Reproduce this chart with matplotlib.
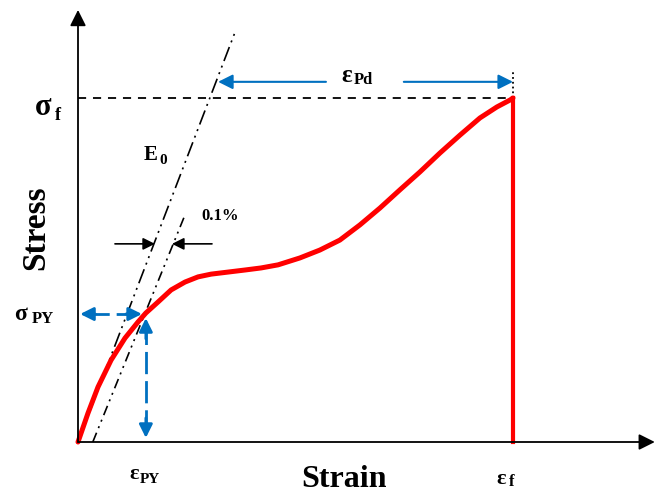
import matplotlib.pyplot as plt

plt.rcParams['font.family'] = ['Liberation Serif', 'DejaVu Serif']
plt.rcParams['font.weight'] = 'bold'

# stress-strain curve, normalised: strain / eps_f, stress / sigma_f
strain = [0.0, 0.023, 0.046, 0.076, 0.108, 0.138, 0.156, 0.184, 0.214, 0.246,
          0.276, 0.306, 0.345, 0.384, 0.421, 0.460, 0.510, 0.556, 0.602, 0.648,
          0.694, 0.740, 0.786, 0.832, 0.878, 0.924, 0.963, 0.993, 1.0]
stress = [0.0, 0.084, 0.160, 0.238, 0.302, 0.349, 0.375, 0.407, 0.442, 0.465,
          0.480, 0.488, 0.494, 0.500, 0.506, 0.515, 0.535, 0.558, 0.587, 0.631,
          0.680, 0.733, 0.785, 0.840, 0.892, 0.942, 0.974, 0.994, 1.0]

# elastic line E0 and the 0.1 % offset line
e0_strain = [0.0, 0.363]
e0_stress = [0.0, 1.198]
off_strain = [0.034, 0.244]
off_stress = [0.0, 0.654]

eps_py, sig_py = 0.156, 0.372
eps_f, sig_f = 1.0, 1.0

blue = '#0070C0'

fig = plt.figure(figsize=(6.56, 4.94), dpi=100)
ax = fig.add_axes([0, 0, 1, 1])
ax.set_xlim(-78 / 435, 578 / 435)
ax.set_ylim(-52 / 344, 442 / 344)
ax.axis('off')

# axes with arrow heads
ax.annotate('', xy=(1.326, 0), xytext=(0, 0),
            arrowprops=dict(arrowstyle='-|>', lw=1.3, color='black', mutation_scale=24,
                            shrinkA=0, shrinkB=0))
ax.annotate('', xy=(0, 1.256), xytext=(0, 0),
            arrowprops=dict(arrowstyle='-|>', lw=1.3, color='black', mutation_scale=24,
                            shrinkA=0, shrinkB=0))

# sigma_f dashed line and dotted marker at eps_f
ax.plot([0, eps_f], [sig_f, sig_f], color='black', lw=1.3, dashes=(4.5, 3.8))
ax.plot([eps_f, eps_f], [sig_f, 1.076], color='black', lw=1.3, ls=':')

# E0 and offset lines
ax.plot(e0_strain, e0_stress, color='black', lw=1.2, dashes=(9, 3, 1.2, 3, 1.2, 3))
ax.plot(off_strain, off_stress, color='black', lw=1.2, dashes=(6, 3, 1.2, 3, 1.2, 3))

# red curve + fracture drop
ax.plot(strain, stress, color='red', lw=3.6, solid_joinstyle='round', solid_capstyle='round')
ax.plot([eps_f, eps_f], [sig_f, 0], color='red', lw=3.0)

# 0.1% arrows
ax.annotate('', xy=(0.177, 0.576), xytext=(0.085, 0.576),
            arrowprops=dict(arrowstyle='-|>', lw=1.2, color='black', mutation_scale=18,
                            shrinkA=0, shrinkB=0))
ax.annotate('', xy=(0.216, 0.576), xytext=(0.308, 0.576),
            arrowprops=dict(arrowstyle='-|>', lw=1.2, color='black', mutation_scale=18,
                            shrinkA=0, shrinkB=0))

# eps_Pd arrows
ax.annotate('', xy=(0.322, 1.047), xytext=(0.570, 1.047),
            arrowprops=dict(arrowstyle='-|>', lw=1.5, color=blue, mutation_scale=22,
                            shrinkA=0, shrinkB=0))
ax.annotate('', xy=(1.0, 1.047), xytext=(0.749, 1.047),
            arrowprops=dict(arrowstyle='-|>', lw=1.5, color=blue, mutation_scale=22,
                            shrinkA=0, shrinkB=0))

# dashed blue double arrows for yield point
ax.plot([0.02, 0.135], [sig_py, sig_py], color=blue, lw=2, dashes=(8, 2.5))
ax.plot([eps_py, eps_py], [0.03, 0.35], color=blue, lw=2, dashes=(8, 2.5))
for tip, tail in [((0.005, sig_py), (0.04, sig_py)),
                  ((0.147, sig_py), (0.11, sig_py)),
                  ((eps_py, 0.36), (eps_py, 0.30)),
                  ((eps_py, 0.012), (eps_py, 0.07))]:
    ax.annotate('', xy=tip, xytext=tail,
                arrowprops=dict(arrowstyle='-|>', lw=2, color=blue, mutation_scale=20,
                                shrinkA=0, shrinkB=0))

# labels
ax.text(-0.080, 0.971, 'σ', fontsize=22, ha='center', va='center')
ax.text(-0.046, 0.950, 'f', fontsize=13, ha='center', va='center')
ax.text(-0.133, 0.370, 'σ', fontsize=17, ha='center', va='center')
ax.text(-0.080, 0.358, 'PY', fontsize=12, ha='center', va='center')
ax.text(0.166, 0.834, 'E', fontsize=15, ha='center', va='center')
ax.text(0.196, 0.818, '0', fontsize=11, ha='center', va='center')
ax.text(0.326, 0.657, '0.1%', fontsize=12, ha='center', va='center')
ax.text(0.618, 1.066, 'ε', fontsize=18, ha='center', va='center')
ax.text(0.657, 1.052, 'Pd', fontsize=12, ha='center', va='center')
ax.text(0.129, -0.094, 'ε', fontsize=16, ha='center', va='center')
ax.text(0.166, -0.108, 'PY', fontsize=11, ha='center', va='center')
ax.text(0.972, -0.108, 'ε', fontsize=16, ha='center', va='center')
ax.text(0.998, -0.116, 'f', fontsize=12, ha='center', va='center')
ax.text(0.611, -0.110, 'Strain', fontsize=23, ha='center', va='center')
ax.text(-0.097, 0.622, 'Stress', fontsize=24, ha='center', va='center', rotation=90)

fig.savefig('out.png', dpi=100)
